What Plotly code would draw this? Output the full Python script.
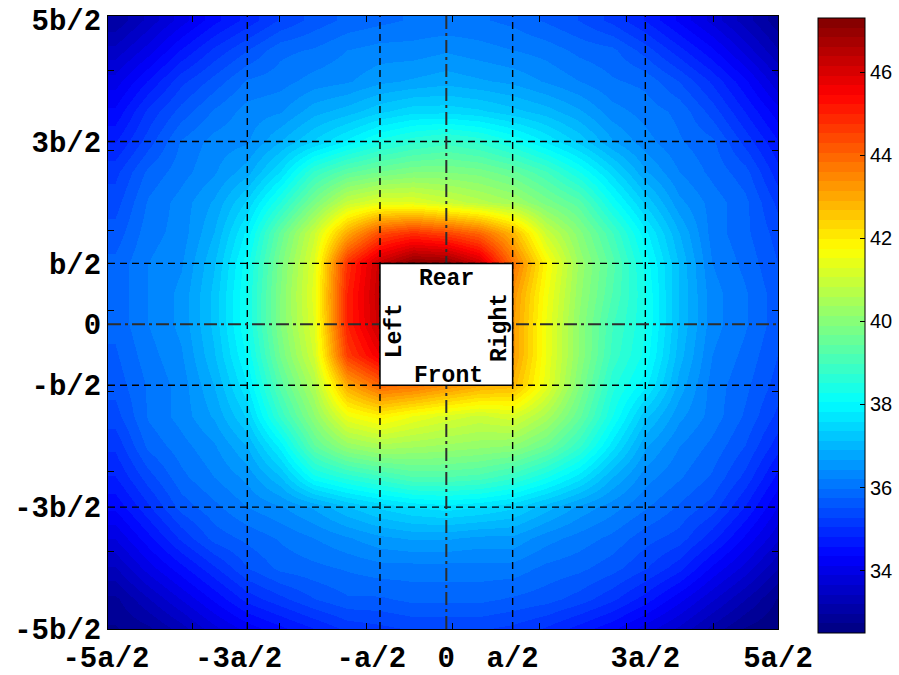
import plotly.graph_objects as go

# Sample grid (units of a across, b front-to-back), step 1/4
x_pos = [-2.5, -2.25, -2.0, -1.75, -1.5, -1.25, -1.0, -0.75, -0.5, -0.25, 0.0,
         0.25, 0.5, 0.75, 1.0, 1.25, 1.5, 1.75, 2.0, 2.25, 2.5]
y_pos = list(x_pos)

# Sound pressure level (dB), one row per y value from front (-5b/2) to rear (5b/2)
spl_m250 = [32.7, 32.9, 33.3, 33.8, 34.2, 34.5, 34.8, 35.1, 35.2, 35.3, 35.3, 35.3, 35.2, 35.0, 34.7, 34.4, 34.0, 33.6, 33.1, 32.7, 32.5]
spl_m225 = [32.9, 33.4, 33.9, 34.4, 34.9, 35.2, 35.5, 35.7, 35.7, 35.8, 35.8, 35.8, 35.7, 35.6, 35.4, 35.1, 34.7, 34.2, 33.7, 33.2, 32.7]
spl_m200 = [33.4, 34.0, 34.5, 35.0, 35.5, 35.8, 35.9, 36.0, 36.1, 36.1, 36.1, 36.1, 36.1, 35.9, 35.8, 35.6, 35.3, 34.9, 34.3, 33.8, 33.2]
spl_m175 = [33.9, 34.5, 35.1, 35.6, 35.8, 36.0, 36.2, 36.4, 36.6, 36.7, 36.7, 36.6, 36.6, 36.3, 36.1, 35.9, 35.6, 35.4, 34.9, 34.3, 33.7]
spl_m150 = [34.4, 35.0, 35.6, 35.9, 36.2, 36.4, 36.7, 37.1, 37.4, 37.6, 37.7, 37.6, 37.4, 37.0, 36.6, 36.3, 36.0, 35.7, 35.4, 34.8, 34.1]
spl_m125 = [34.8, 35.4, 35.9, 36.2, 36.5, 37.1, 38.2, 38.6, 38.9, 39.2, 39.2, 39.1, 38.8, 38.3, 37.7, 36.9, 36.3, 36.0, 35.7, 35.2, 34.5]
spl_m100 = [35.1, 35.8, 36.1, 36.4, 36.9, 37.9, 39.4, 40.2, 40.5, 40.4, 40.3, 40.2, 40.1, 39.6, 38.8, 37.7, 36.7, 36.2, 35.9, 35.5, 34.9]
spl_m075 = [35.4, 36.0, 36.3, 36.7, 37.4, 38.8, 40.1, 41.5, 41.9, 41.5, 41.2, 41.0, 41.2, 40.5, 39.5, 38.3, 37.2, 36.5, 36.1, 35.7, 35.2]
spl_m050 = [35.6, 36.0, 36.3, 36.9, 37.8, 39.3, 40.6, 43.0, 44.0, 43.8, 43.4, 43.0, 42.8, 41.4, 39.9, 38.6, 37.9, 36.8, 36.1, 35.8, 35.4]
spl_m025 = [35.7, 36.1, 36.4, 37.1, 38.1, 39.7, 41.1, 44.6, 45.7, 45.5, 45.0, 44.5, 43.2, 41.5, 40.1, 38.9, 38.2, 37.0, 36.2, 35.9, 35.5]
spl_p000 = [35.8, 36.2, 36.5, 37.2, 38.3, 39.9, 41.3, 45.0, 46.3, 46.4, 46.0, 45.2, 43.2, 41.5, 40.1, 39.0, 38.3, 37.1, 36.3, 36.0, 35.6]
spl_p025 = [35.8, 36.2, 36.5, 37.2, 38.3, 39.9, 41.4, 45.0, 46.4, 46.6, 46.4, 45.6, 43.3, 41.6, 40.2, 39.2, 38.3, 37.1, 36.3, 36.0, 35.6]
spl_p050 = [35.8, 36.2, 36.4, 37.1, 38.2, 39.8, 41.3, 44.8, 46.3, 47.2, 47.1, 46.2, 43.8, 41.8, 40.3, 39.3, 38.2, 37.1, 36.2, 35.9, 35.5]
spl_p075 = [35.6, 36.1, 36.3, 36.9, 37.9, 39.5, 41.0, 43.0, 44.4, 44.8, 44.5, 44.0, 42.8, 41.0, 40.0, 39.0, 37.9, 36.9, 36.1, 35.8, 35.4]
spl_p100 = [35.4, 36.0, 36.3, 36.7, 37.4, 38.5, 39.8, 40.9, 41.3, 41.3, 41.0, 40.7, 40.4, 39.8, 39.3, 38.2, 37.3, 36.5, 36.1, 35.8, 35.2]
spl_p125 = [35.2, 35.8, 36.1, 36.4, 36.8, 37.6, 38.8, 39.4, 39.7, 39.9, 39.9, 39.8, 39.5, 39.0, 38.3, 37.5, 36.7, 36.2, 35.9, 35.6, 34.9]
spl_p150 = [34.8, 35.4, 36.0, 36.3, 36.4, 36.9, 37.4, 37.9, 38.4, 38.7, 38.9, 38.7, 38.3, 37.8, 37.3, 36.7, 36.3, 36.0, 35.8, 35.2, 34.6]
spl_p175 = [34.4, 35.1, 35.6, 36.0, 36.3, 36.4, 36.8, 37.0, 37.3, 37.5, 37.5, 37.4, 37.2, 37.0, 36.7, 36.3, 36.1, 35.9, 35.4, 34.8, 34.2]
spl_p200 = [34.0, 34.6, 35.2, 35.6, 36.0, 36.1, 36.3, 36.4, 36.6, 36.7, 36.8, 36.7, 36.6, 36.4, 36.2, 36.0, 35.9, 35.5, 35.0, 34.4, 33.7]
spl_p225 = [33.5, 34.0, 34.6, 35.1, 35.5, 35.9, 36.0, 36.2, 36.3, 36.3, 36.4, 36.3, 36.2, 36.1, 35.9, 35.8, 35.4, 34.9, 34.4, 33.8, 33.2]
spl_p250 = [33.0, 33.5, 34.0, 34.5, 34.9, 35.3, 35.6, 35.8, 35.9, 36.0, 36.0, 36.0, 35.9, 35.7, 35.5, 35.2, 34.8, 34.3, 33.8, 33.3, 32.8]

spl = [spl_m250, spl_m225, spl_m200, spl_m175, spl_m150, spl_m125, spl_m100,
       spl_m075, spl_m050, spl_m025, spl_p000, spl_p025, spl_p050, spl_p075,
       spl_p100, spl_p125, spl_p150, spl_p175, spl_p200, spl_p225, spl_p250]

level_min, level_max = 32.5, 47.3
cbar_ticks = [34, 36, 38, 40, 42, 44, 46]

x_tickvals = [-2.5, -1.5, -0.5, 0.0, 0.5, 1.5, 2.5]
x_ticktext = ["-5a/2\u00a0", "-3a/2\u00a0", "-a/2\u00a0", "0", "a/2", "3a/2", "5a/2"]
y_tickvals = [-2.5, -1.5, -0.5, 0.0, 0.5, 1.5, 2.5]
y_ticktext = ["-5b/2", "-3b/2", "-b/2", "0", "b/2", "3b/2", "5b/2"]

grid_x = [-1.5, -0.5, 0.5, 1.5]
grid_y = [-1.5, -0.5, 0.5, 1.5]

x_range = [-2.55, 2.5]
y_range = [-2.5, 2.53]


def jet_rgb(t):
    """Classic 'jet' colour at fraction t in [0, 1]."""
    def ch(v):
        return int(round(255 * max(0.0, min(1.0, v))))
    r = ch(1.5 - abs(4 * t - 3))
    g = ch(1.5 - abs(4 * t - 2))
    b = ch(1.5 - abs(4 * t - 1))
    return f"rgb({r},{g},{b})"


# 64-step jet map (banded, like a 64-entry colour table)
n_colors = 64
jet64 = []
for k in range(n_colors):
    c = jet_rgb((k + 0.5) / n_colors)
    jet64.append([k / n_colors, c])
    jet64.append([(k + 1) / n_colors, c])

mono = "Liberation Mono"

fig = go.Figure(
    go.Heatmap(
        x=x_pos,
        y=y_pos,
        z=spl,
        zsmooth="best",
        colorscale=jet64,
        zmin=level_min,
        zmax=level_max,
        colorbar=dict(
            x=(818 - 108) / 670, xanchor="left", xpad=0,
            y=(629 - 325.5) / 613, yanchor="middle", ypad=0,
            lenmode="pixels", len=615, thickness=47,
            outlinewidth=1, outlinecolor="black",
            tickmode="array", tickvals=cbar_ticks,
            ticks="inside", ticklen=5, tickcolor="black",
            tickfont=dict(family="Liberation Sans", size=20, color="black"),
        ),
        hoverinfo="skip",
    )
)

shapes = []
for gx in grid_x:
    shapes.append(dict(type="line", xref="x", yref="y", x0=gx, x1=gx, y0=y_range[0], y1=y_range[1],
                       line=dict(color="black", width=1.4, dash="7px,5px")))
for gy in grid_y:
    shapes.append(dict(type="line", xref="x", yref="y", x0=x_range[0], x1=x_range[1], y0=gy, y1=gy,
                       line=dict(color="black", width=1.4, dash="7px,5px")))
# centre lines
shapes.append(dict(type="line", xref="x", yref="y", x0=0, x1=0, y0=y_range[0], y1=y_range[1],
                   line=dict(color="rgb(45,45,45)", width=2, dash="13px,4px,3px,4px")))
shapes.append(dict(type="line", xref="x", yref="y", x0=x_range[0], x1=x_range[1], y0=0, y1=0,
                   line=dict(color="rgb(45,45,45)", width=2, dash="13px,4px,3px,4px")))
# machine outline
shapes.append(dict(type="rect", xref="x", yref="y", x0=-0.5, x1=0.5, y0=-0.5, y1=0.5,
                   fillcolor="white", line=dict(color="black", width=1.5)))

label_font = dict(family=mono, size=23, color="black", weight="bold")
annotations = [
    dict(x=0.0, y=0.37, text="Rear", showarrow=False, font=label_font),
    dict(x=0.02, y=-0.42, text="Front", showarrow=False, font=label_font),
    dict(x=-0.38, y=-0.05, text="Left", showarrow=False, font=label_font, textangle=-90),
    dict(x=0.405, y=-0.03, text="Right", showarrow=False, font=label_font, textangle=-90),
]

tick_font = dict(family=mono, size=29, color="black", weight="bold")
axis_common = dict(showgrid=False, zeroline=False, showline=True, linecolor="black",
                   linewidth=1, mirror="ticks", ticks="", tickfont=tick_font, automargin=False)

fig.update_layout(
    width=899, height=675,
    margin=dict(l=108, r=121, t=16, b=46, autoexpand=False),
    paper_bgcolor="white", plot_bgcolor="white",
    shapes=shapes, annotations=annotations,
    xaxis=dict(range=x_range, tickmode="array", tickvals=x_tickvals, ticktext=x_ticktext,
               ticklabelstandoff=2,
               minor=dict(tickmode="linear", tick0=0.05, dtick=0.655, ticks="inside",
                          ticklen=6, tickcolor="black", showgrid=False),
               **axis_common),
    yaxis=dict(range=y_range, tickmode="array", tickvals=y_tickvals, ticktext=y_ticktext,
               minor=dict(tickmode="linear", tick0=0.11, dtick=0.6585, ticks="inside",
                          ticklen=6, tickcolor="black", showgrid=False),
               **axis_common),
)

fig.write_html("out.html")
